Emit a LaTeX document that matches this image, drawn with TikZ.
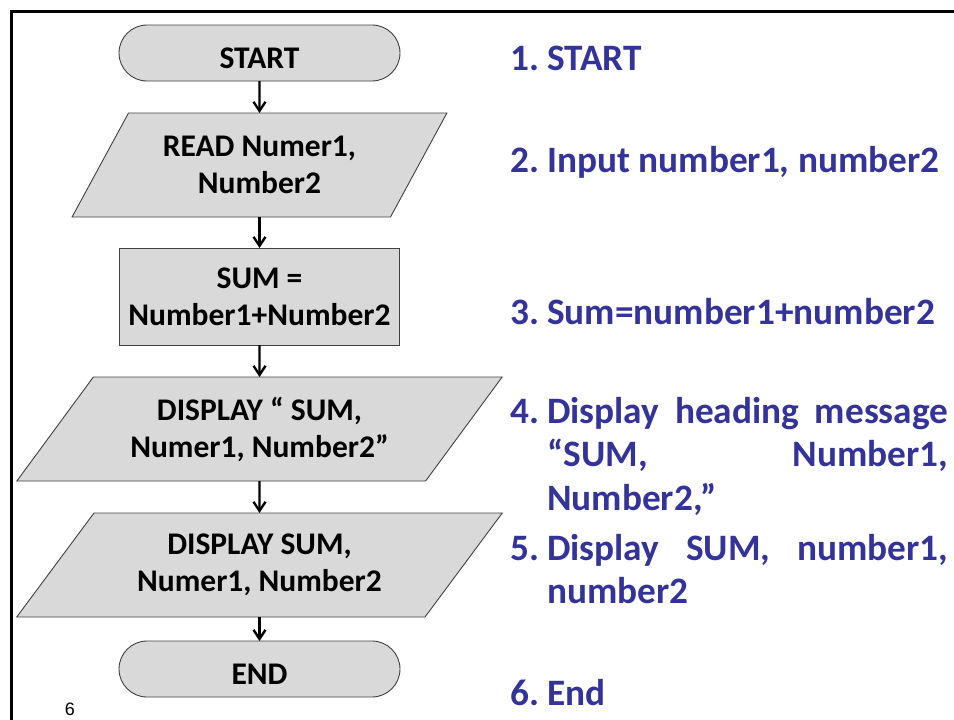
\documentclass[tikz,border=0pt]{standalone}
\usepackage{fontspec}
\setmainfont{Carlito}
\newfontfamily\pagefont{Liberation Sans}
\usetikzlibrary{shapes.geometric,shapes.misc,arrows.meta}
\definecolor{boxgray}{RGB}{217,217,217}
\definecolor{stepblue}{RGB}{51,51,153}
\begin{document}
\begin{tikzpicture}[x=1pt,y=-1pt,
  box/.style={draw=black!75, line width=0.9pt, fill=boxgray, outer sep=0pt, inner sep=0pt, align=center,
              font=\fontsize{31.5}{37}\selectfont\bfseries},
  terminal/.style={box, rounded rectangle, minimum width=281pt, minimum height=56pt,
              text height=34pt, text depth=4pt},
  process/.style={box, rectangle, minimum width=280pt, minimum height=97pt},
  io/.style={box, trapezium, trapezium stretches=true, minimum height=104pt},
  flow/.style={line width=2.4pt, -{Straight Barb[length=9pt,width=12pt]}},
  stepitem/.style={anchor=base west, inner sep=0pt, text=stepblue,
              font=\fontsize{37.3}{43.5}\selectfont\bfseries}
]
\useasboundingbox (0,0) rectangle (954,720);
\draw[line width=3pt] (11.5,720) -- (11.5,11.5) -- (954,11.5);

\node[terminal] (start) at (259.5,53) {START};
\node[io, trapezium left angle=54.2, trapezium right angle=125.8, minimum width=375pt] (read) at (259.5,165) {READ Numer1,\\Number2};
\node[process] (sum) at (259.5,296.5) {SUM =\\Number1+Number2};
\node[io, trapezium left angle=47.3, trapezium right angle=132.7, minimum width=487pt] (disp1) at (259.5,429) {DISPLAY “ SUM,\\Numer1, Number2”};
\node[io, trapezium left angle=47.3, trapezium right angle=132.7, minimum width=487pt] (disp2) at (259.5,565) {DISPLAY SUM,\\Numer1, Number2};
\node[terminal] (end) at (259.5,669) {END};

\draw[flow] (start) -- (read);
\draw[flow] (read) -- (sum);
\draw[flow] (sum) -- (disp1);
\draw[flow] (disp1) -- (disp2);
\draw[flow] (disp2) -- (end);

\node[stepitem] (s1) at (510,70) {\makebox[37pt][l]{1.}START};
\node[stepitem] (s2) at (510,172) {\makebox[37pt][l]{2.}Input number1, number2};
\node[stepitem] (s3) at (510,324) {\makebox[37pt][l]{3.}Sum=number1+number2};
\node[stepitem] (s4) at (510,423) {\makebox[37pt][l]{4.}\parbox[t]{401pt}{Display\hfill heading\hfill message\\“SUM,\hfill Number1,\\Number2,”}};
\node[stepitem] (s5) at (510,560) {\makebox[37pt][l]{5.}\parbox[t]{401pt}{Display\hfill SUM,\hfill number1,\\number2}};
\node[stepitem] (s6) at (510,705) {\makebox[37pt][l]{6.}End};

\node[font=\pagefont\fontsize{18}{20}\selectfont, anchor=base, inner sep=0pt] (pg) at (70,715.5) {6};
\end{tikzpicture}
\end{document}
